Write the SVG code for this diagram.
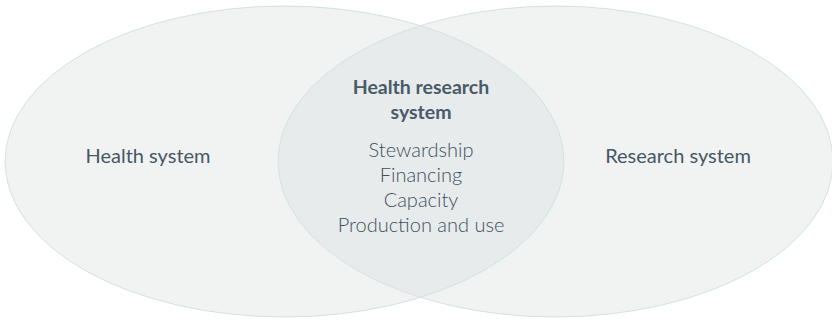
<svg xmlns="http://www.w3.org/2000/svg" width="832" height="321" viewBox="0 0 832 321">
<style>
.bg{fill:#f1f3f2;stroke:none}
.ring{fill:none;stroke:#d3e2e2;stroke-width:1}
.lens{fill:#e7ebeb}
.lbl{font-family:Lato,"Open Sans","Liberation Sans",sans-serif;font-size:20px;fill:#465766;text-anchor:middle}
.ttl{font-family:Lato,"Open Sans","Liberation Sans",sans-serif;font-size:19.5px;font-weight:700;fill:#4a5a69;text-anchor:middle}
.itm{font-family:Lato,"Open Sans","Liberation Sans",sans-serif;font-size:20px;font-weight:300;fill:#3f5060;text-anchor:middle}
</style>
<defs>
<clipPath id="clipL"><ellipse cx="284.5" cy="161.5" rx="279.5" ry="155.5"/></clipPath>
</defs>
<g id="health-system">
<ellipse class="bg" cx="284.5" cy="161.5" rx="279.5" ry="155.5"/>
</g>
<g id="research-system">
<ellipse class="bg" cx="555.5" cy="161.5" rx="277.5" ry="155.5"/>
</g>
<g id="health-research-system">
<ellipse class="lens" cx="555.5" cy="161.5" rx="277.5" ry="155.5" clip-path="url(#clipL)"/>
</g>
<g id="outlines">
<ellipse class="ring" cx="284.5" cy="161.5" rx="279.5" ry="155.5"/>
<ellipse class="ring" cx="555.5" cy="161.5" rx="277.5" ry="155.5"/>
</g>
<g id="labels">
<text class="lbl" x="148" y="163">Health system</text>
<text class="lbl" x="678" y="163">Research system</text>
<text class="ttl" x="421" y="94">Health research</text>
<text class="ttl" x="421" y="119">system</text>
<text class="itm" x="421" y="157">Stewardship</text>
<text class="itm" x="421" y="182">Financing</text>
<text class="itm" x="421" y="207">Capacity</text>
<text class="itm" x="421" y="232">Production and use</text>
</g>
</svg>
